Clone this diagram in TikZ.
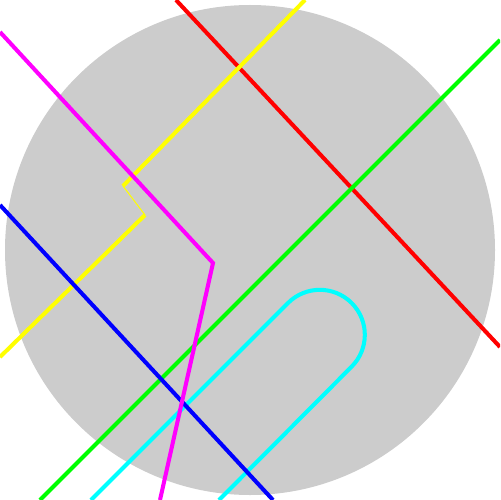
\documentclass[tikz,border=0pt]{standalone}
\usetikzlibrary{calc}

\definecolor{discgray}{RGB}{204,204,204}
\definecolor{lnred}{RGB}{255,0,0}
\definecolor{lngreen}{RGB}{0,255,0}
\definecolor{lnblue}{RGB}{0,0,255}
\definecolor{lnyellow}{RGB}{255,255,0}
\definecolor{lncyan}{RGB}{0,255,255}
\definecolor{lnmagenta}{RGB}{255,0,255}

\tikzset{
  route/.style={line width=2.3pt, line cap=butt, line join=miter},
  thinroute/.style={line width=0.6pt},
}

\begin{document}
\begin{tikzpicture}[x=0.02cm, y=-0.02cm]

%% Frame
\useasboundingbox (0,0) rectangle (500,500);
\clip (0,0) rectangle (500,500);

%% Disc
\fill[discgray] (250,250) circle (245);

%% Red line
\coordinate (redA) at (176,0);
\coordinate (redB) at (500,347);
\draw[route, lnred] (redA) -- (redB);

%% Green line
\coordinate (grnA) at (40,500);
\coordinate (grnB) at (500,40);
\draw[route, lngreen] (grnA) -- (grnB);

%% Yellow line with thin link
\coordinate (yelA) at (0,357);
\coordinate (yelB) at (145,215);
\coordinate (yelC) at (123,186);
\coordinate (yelD) at (305,0);
\draw[route, lnyellow] (yelA) -- (yelB);
\draw[thinroute, lnyellow] (yelB) -- (yelC);
\draw[route, lnyellow] (yelC) -- (yelD);

%% Cyan loop
\coordinate (cyaA) at (91,500);
\coordinate (cyaB) at (288,303);
\coordinate (cyaD) at (219,500);
\draw[route, lncyan] (cyaA) -- (cyaB)
  arc[start angle=225, end angle=405, radius=45] -- (cyaD);

%% Blue line
\coordinate (bluA) at (0,205);
\coordinate (bluB) at (273,500);
\draw[route, lnblue] (bluA) -- (bluB);

%% Magenta line
\coordinate (magA) at (0,32);
\coordinate (magB) at (213,263);
\coordinate (magC) at (160,500);
\draw[route, lnmagenta] (magA) -- (magB) -- (magC);

\end{tikzpicture}
\end{document}
